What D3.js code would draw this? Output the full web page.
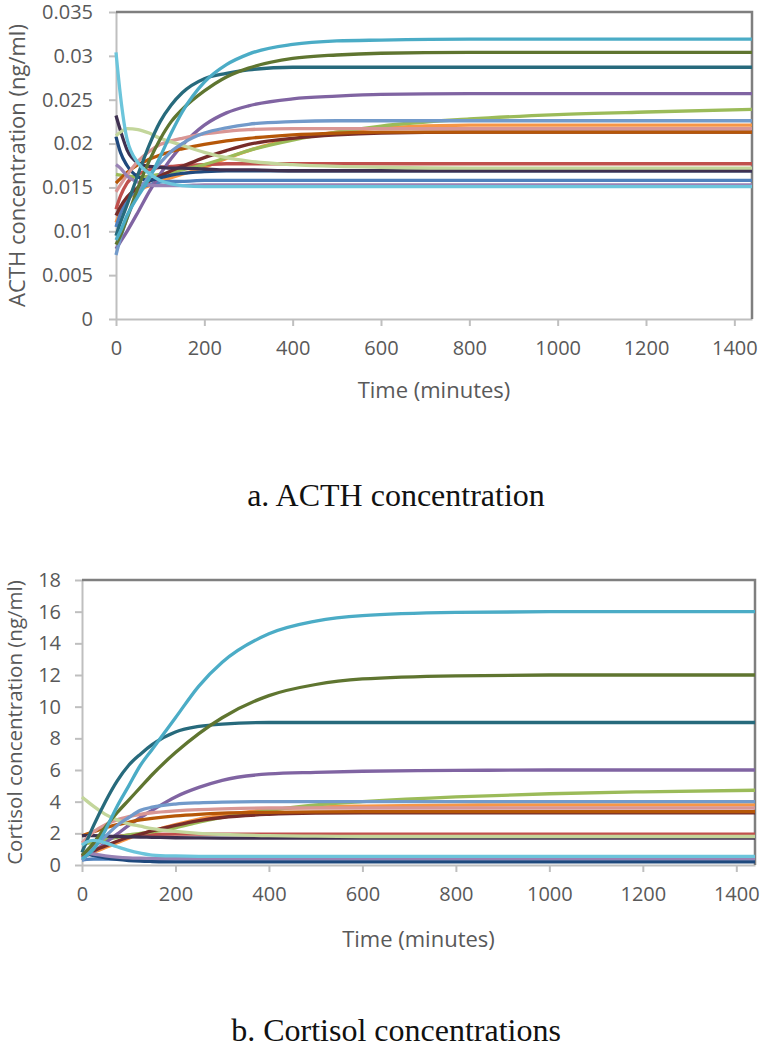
<!DOCTYPE html>
<html>
<head>
<meta charset="utf-8">
<script src="https://cdn.jsdelivr.net/npm/d3@7"></script>
<style>
  body { margin: 0; background: #fff; }
  svg { display: block; }
  .tick text, .lbl { font-family: "Open Sans", sans-serif; fill: #595959; }
  .cap { font-family: "Liberation Serif", "Times New Roman", serif; fill: #111; }
</style>
</head>
<body>
<svg width="762" height="1050"></svg>
<script>
// shared sample times (minutes)
const times = [0, 10, 25, 50, 75, 100, 125, 150, 200, 250, 300, 400, 500, 600, 800, 1000, 1200, 1440];

const xTicks = [0, 200, 400, 600, 800, 1000, 1200, 1400];
const acthTicks = [0, 0.005, 0.01, 0.015, 0.02, 0.025, 0.03, 0.035];
const cortTicks = [0, 2, 4, 6, 8, 10, 12, 14, 16, 18];

// series colours (same run = same colour in both panels)
const colors = ["#F79646", "#4F81BD", "#C0504D", "#9BBB59", "#8064A2", "#772C2A", "#B65708", "#1F497D",
                "#3F3151", "#D99694", "#C3D69B", "#9983B5", "#729ACA", "#276A7C", "#5F7530", "#4BACC6", "#6CC5DB"];

// ACTH (ng/ml)
const acthOrange   = [0.0110,0.0122,0.0135,0.0146,0.0152,0.0157,0.0161,0.0165,0.0173,0.0183,0.0192,0.0205,0.0213,0.0218,0.0221,0.0221,0.0221,0.0221];
const acthBlue     = [0.0105,0.0120,0.0135,0.0148,0.0153,0.0156,0.0157,0.0157,0.0158,0.0158,0.0158,0.0158,0.0158,0.0158,0.0158,0.0158,0.0158,0.0158];
const acthRed      = [0.0125,0.0140,0.0155,0.0165,0.0170,0.0173,0.0174,0.0175,0.0176,0.0177,0.0177,0.0177,0.0177,0.0177,0.0177,0.0177,0.0177,0.0177];
const acthGreen    = [0.0165,0.0164,0.0163,0.0162,0.0163,0.0165,0.0167,0.0170,0.0176,0.0184,0.0192,0.0204,0.0213,0.0220,0.0228,0.0233,0.0236,0.0239];
const acthPurple   = [0.0080,0.0088,0.0100,0.0122,0.0145,0.0165,0.0183,0.0198,0.0221,0.0235,0.0243,0.0251,0.0254,0.0256,0.0257,0.0257,0.0257,0.0257];
const acthMaroon   = [0.0118,0.0128,0.0139,0.0150,0.0157,0.0163,0.0169,0.0174,0.0184,0.0192,0.0199,0.0206,0.0210,0.0212,0.0213,0.0213,0.0213,0.0213];
const acthBurnt    = [0.0155,0.0160,0.0167,0.0176,0.0182,0.0187,0.0191,0.0194,0.0199,0.0203,0.0206,0.0210,0.0212,0.0213,0.0213,0.0213,0.0213,0.0213];
const acthNavy     = [0.0208,0.0190,0.0175,0.0162,0.0158,0.0161,0.0164,0.0166,0.0168,0.0169,0.0169,0.0169,0.0169,0.0169,0.0169,0.0169,0.0169,0.0169];
const acthDkPurple = [0.0232,0.0215,0.0193,0.0178,0.0174,0.0173,0.0172,0.0172,0.0171,0.0170,0.0170,0.0169,0.0169,0.0169,0.0169,0.0169,0.0169,0.0169];
const acthPink     = [0.0145,0.0153,0.0164,0.0180,0.0191,0.0199,0.0203,0.0206,0.0211,0.0214,0.0216,0.0217,0.0217,0.0217,0.0217,0.0217,0.0217,0.0217];
const acthLtGreen  = [0.0209,0.0213,0.0217,0.0216,0.0212,0.0206,0.0202,0.0198,0.0190,0.0184,0.0180,0.0176,0.0174,0.0173,0.0172,0.0172,0.0172,0.0172];
const acthLavender = [0.0176,0.0172,0.0163,0.0156,0.0153,0.0152,0.0152,0.0152,0.0153,0.0153,0.0153,0.0153,0.0153,0.0153,0.0153,0.0153,0.0153,0.0153];
const acthLtBlue   = [0.0073,0.0092,0.0115,0.0143,0.0163,0.0178,0.0191,0.0200,0.0212,0.0218,0.0222,0.0225,0.0226,0.0226,0.0226,0.0226,0.0226,0.0226];
const acthTeal     = [0.0095,0.0110,0.0130,0.0165,0.0198,0.0225,0.0244,0.0258,0.0274,0.0280,0.0284,0.0287,0.0287,0.0287,0.0287,0.0287,0.0287,0.0287];
const acthOlive    = [0.0085,0.0095,0.0115,0.0150,0.0180,0.0205,0.0225,0.0239,0.0260,0.0276,0.0286,0.0297,0.0301,0.0303,0.0304,0.0304,0.0304,0.0304];
const acthAqua     = [0.0090,0.0100,0.0118,0.0140,0.0160,0.0185,0.0212,0.0236,0.0270,0.0290,0.0302,0.0313,0.0317,0.0318,0.0319,0.0319,0.0319,0.0319];
const acthLtAqua   = [0.0304,0.0255,0.0205,0.0178,0.0166,0.0158,0.0154,0.0152,0.0151,0.0151,0.0151,0.0151,0.0151,0.0151,0.0151,0.0151,0.0151,0.0151];

// Cortisol (ng/ml)
const cortOrange   = [0.5,0.6,0.8,1.1,1.4,1.7,1.95,2.15,2.55,2.9,3.15,3.5,3.65,3.72,3.78,3.8,3.8,3.8];
const cortBlue     = [0.3,0.35,0.38,0.38,0.38,0.38,0.38,0.38,0.38,0.38,0.38,0.38,0.38,0.38,0.38,0.38,0.38,0.38];
const cortRed      = [0.5,0.8,1.2,1.6,1.8,1.88,1.92,1.94,1.95,1.95,1.95,1.95,1.95,1.95,1.95,1.95,1.95,1.95];
const cortGreen    = [1.3,1.35,1.45,1.6,1.75,1.9,2.0,2.1,2.35,2.7,3.0,3.45,3.8,4.0,4.3,4.5,4.62,4.72];
const cortPurple   = [0.5,0.6,0.85,1.4,1.95,2.5,3.0,3.45,4.3,4.9,5.35,5.75,5.85,5.92,5.97,6.0,6.0,6.0];
const cortMaroon   = [0.6,0.7,0.9,1.2,1.5,1.75,1.95,2.15,2.5,2.8,3.0,3.2,3.28,3.3,3.3,3.3,3.3,3.3];
const cortBurnt    = [1.85,1.95,2.1,2.35,2.55,2.7,2.85,2.95,3.1,3.2,3.27,3.33,3.36,3.37,3.37,3.37,3.37,3.37];
const cortNavy     = [0.75,0.7,0.6,0.45,0.35,0.28,0.24,0.22,0.2,0.2,0.2,0.2,0.2,0.2,0.2,0.2,0.2,0.2];
const cortDkPurple = [1.85,1.85,1.85,1.82,1.8,1.78,1.76,1.75,1.72,1.71,1.7,1.7,1.7,1.7,1.7,1.7,1.7,1.7];
const cortPink     = [1.4,1.7,2.1,2.55,2.85,3.05,3.2,3.3,3.42,3.5,3.55,3.6,3.6,3.6,3.6,3.6,3.6,3.6];
const cortLtGreen  = [4.3,4.05,3.7,3.2,2.85,2.6,2.45,2.3,2.12,2.0,1.93,1.85,1.82,1.8,1.8,1.8,1.8,1.8];
const cortLavender = [0.8,0.75,0.68,0.58,0.5,0.45,0.43,0.42,0.4,0.4,0.4,0.4,0.4,0.4,0.4,0.4,0.4,0.4];
const cortLtBlue   = [0.3,0.6,1.1,1.8,2.5,3.0,3.45,3.65,3.85,3.93,3.97,4.0,4.0,4.0,4.0,4.0,4.0,4.0];
const cortTeal     = [0.8,1.5,2.5,4.0,5.3,6.3,7.0,7.6,8.4,8.75,8.9,9.0,9.0,9.0,9.0,9.0,9.0,9.0];
const cortOlive    = [0.6,0.9,1.4,2.4,3.3,4.1,4.9,5.7,7.1,8.3,9.3,10.7,11.4,11.75,11.95,12.0,12.0,12.0];
const cortAqua     = [0.4,0.6,1.0,2.2,3.7,5.0,6.3,7.3,9.3,11.3,12.8,14.6,15.4,15.75,15.95,16.0,16.0,16.0];
const cortLtAqua   = [1.25,1.45,1.55,1.4,1.15,0.92,0.75,0.63,0.57,0.55,0.55,0.55,0.55,0.55,0.55,0.55,0.55,0.55];

const acthSeries = [acthOrange, acthBlue, acthRed, acthGreen, acthPurple, acthMaroon, acthBurnt, acthNavy,
  acthDkPurple, acthPink, acthLtGreen, acthLavender, acthLtBlue, acthTeal, acthOlive, acthAqua, acthLtAqua];
const cortSeries = [cortOrange, cortBlue, cortRed, cortGreen, cortPurple, cortMaroon, cortBurnt, cortNavy,
  cortDkPurple, cortPink, cortLtGreen, cortLavender, cortLtBlue, cortTeal, cortOlive, cortAqua, cortLtAqua];

const svg = d3.select("svg");

function drawPanel(p) {
  const x = d3.scaleLinear().domain([0, 1440]).range([p.left, p.right]);
  const y = d3.scaleLinear().domain(p.yDomain).range([p.bottom, p.top]);
  const g = svg.append("g");

  // y axis
  g.append("g")
    .attr("transform", `translate(${p.left},0)`)
    .call(d3.axisLeft(y).tickValues(p.yTicks).tickSize(7).tickSizeOuter(0).tickPadding(p.yPad).tickFormat(d => String(d)))
    .call(a => a.select(".domain").attr("stroke", "#BFBFBF").attr("stroke-width", 2))
    .call(a => a.selectAll(".tick line").attr("stroke", "#BFBFBF").attr("stroke-width", 2))
    .call(a => a.selectAll(".tick text").style("font-size", "20px"));

  // x axis
  g.append("g")
    .attr("transform", `translate(0,${p.bottom})`)
    .call(d3.axisBottom(x).tickValues(xTicks).tickSize(7).tickSizeOuter(0).tickPadding(15).tickFormat(d3.format("d")))
    .call(a => a.select(".domain").attr("stroke", "#BFBFBF").attr("stroke-width", 2))
    .call(a => a.selectAll(".tick line").attr("stroke", "#BFBFBF").attr("stroke-width", 2))
    .call(a => a.selectAll(".tick text").style("font-size", "20px"));

  // plot border (top and right)
  g.append("path")
    .attr("d", `M${p.left},${p.top}H${p.right}V${p.bottom}`)
    .attr("fill", "none").attr("stroke", "#7F7F7F").attr("stroke-width", 2.5);

  // curves
  const line = d3.line()
    .x((d, i) => x(times[i]))
    .y(d => y(d))
    .curve(d3.curveMonotoneX);

  g.selectAll(".series")
    .data(p.series)
    .join("path")
    .attr("class", "series")
    .attr("fill", "none")
    .attr("stroke", (d, i) => colors[i])
    .attr("stroke-width", 3.3)
    .attr("d", line);

  // axis titles
  g.append("text").attr("class", "lbl")
    .attr("text-anchor", "middle")
    .attr("transform", `translate(${p.yTitleX},${(p.top + p.bottom) / 2}) rotate(-90)`)
    .style("font-size", p.yTitleSize)
    .text(p.yTitle);

  g.append("text").attr("class", "lbl")
    .attr("text-anchor", "middle")
    .attr("x", (p.left + p.right) / 2)
    .attr("y", p.xTitleY)
    .style("font-size", "22px")
    .text("Time (minutes)");

  // caption
  svg.append("text").attr("class", "cap")
    .attr("text-anchor", "middle")
    .attr("x", 396)
    .attr("y", p.capY)
    .style("font-size", "32px")
    .text(p.caption);
}

drawPanel({
  left: 116, right: 752, top: 12, bottom: 319,
  yDomain: [0, 0.035], yTicks: acthTicks, series: acthSeries, yPad: 16,
  yTitle: "ACTH concentration (ng/ml)", yTitleX: 25, yTitleSize: "22px", xTitleY: 398,
  caption: "a. ACTH concentration", capY: 506
});

drawPanel({
  left: 82, right: 755, top: 580, bottom: 865,
  yDomain: [0, 18], yTicks: cortTicks, series: cortSeries, yPad: 14,
  yTitle: "Cortisol concentration (ng/ml)", yTitleX: 22, yTitleSize: "20.5px", xTitleY: 947,
  caption: "b. Cortisol concentrations", capY: 1041
});
</script>
</body>
</html>
